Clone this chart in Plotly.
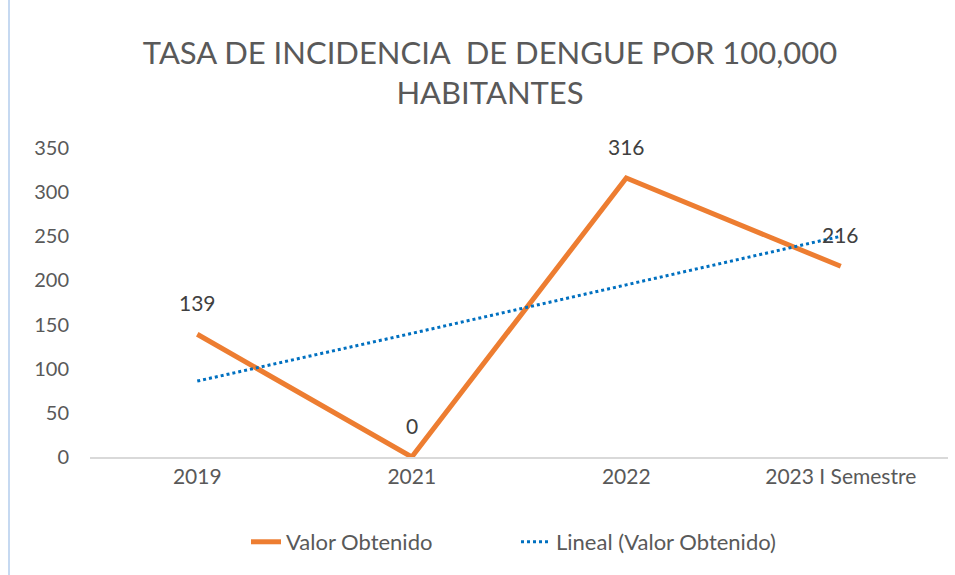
import plotly.graph_objects as go

categories = ["2019", "2021", "2022", "2023 I Semestre"]
valor_obtenido = [139, 0, 316, 216]
tendencia_lineal = [86, 140, 195, 250]
y_ticks = [0, 50, 100, 150, 200, 250, 300, 350]

FONT = "Lato"
GREY = "#595959"

fig = go.Figure()
fig.add_trace(go.Scatter(
    x=categories, y=valor_obtenido, mode="lines", name="Valor Obtenido",
    line=dict(color="#ED7D31", width=5), cliponaxis=False,
))
fig.add_trace(go.Scatter(
    x=categories, y=tendencia_lineal, mode="lines", name="Lineal (Valor Obtenido)",
    line=dict(color="#0070C0", width=3, dash="dot"), cliponaxis=False,
))

for i, v in enumerate(valor_obtenido):
    fig.add_annotation(x=i, y=v, xref="x", yref="y", text=str(v), showarrow=False,
                       yshift=32, font=dict(family=FONT, size=21, color="#404040"))

fig.add_shape(type="line", xref="paper", yref="paper",
              x0=-0.0944, x1=-0.0944, y0=-0.382, y1=1.479,
              line=dict(color="#C6D9F1", width=2))

fig.update_layout(
    width=955, height=575,
    paper_bgcolor="white", plot_bgcolor="white",
    margin=dict(l=90, r=7, t=148, b=118),
    title=dict(text="TASA DE INCIDENCIA  DE DENGUE POR 100,000<br>HABITANTES",
               x=490 / 955, xanchor="center", xref="container",
               y=1 - 64 / 575, yanchor="middle",
               font=dict(family=FONT, size=31, color=GREY)),
    xaxis=dict(type="category", range=[-0.5, 3.5], showgrid=False, showline=True,
               linecolor="#D9D9D9", linewidth=2, ticks="", zeroline=False,
               tickfont=dict(family=FONT, size=21, color=GREY)),
    yaxis=dict(range=[0, 350], tickvals=y_ticks, showgrid=False, showline=False,
               zeroline=False, ticks="", ticklabelstandoff=20,
               tickfont=dict(family=FONT, size=20, color=GREY)),
    legend=dict(orientation="h", x=(246 - 90) / 858, xanchor="left", y=-0.275,
                yanchor="middle", font=dict(family=FONT, size=22, color=GREY),
                entrywidth=225, entrywidthmode="pixels", tracegroupgap=0),
    showlegend=True,
)

fig.write_html("out.html", config={"displayModeBar": False},
               post_script="document.body.style.margin='0';")
